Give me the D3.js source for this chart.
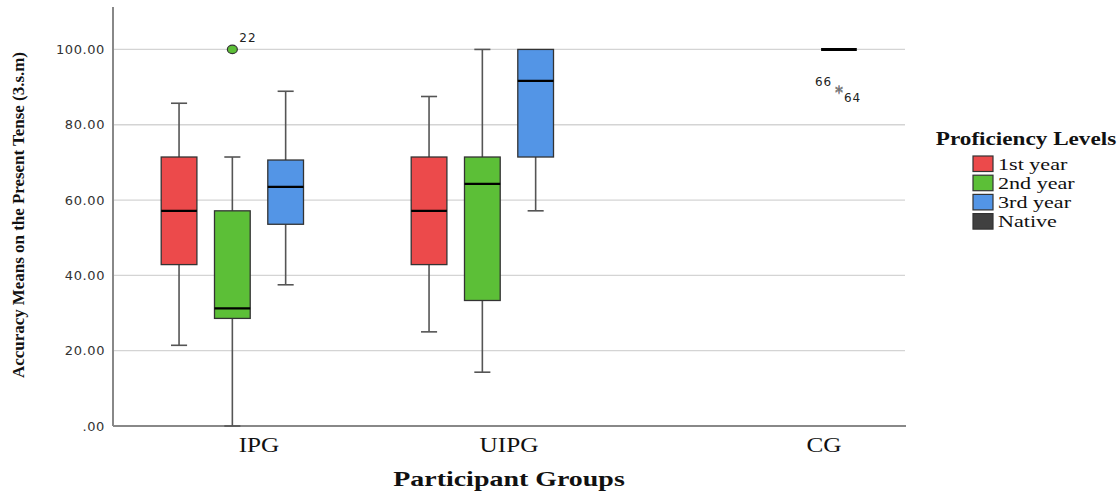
<!DOCTYPE html>
<html>
<head>
<meta charset="utf-8">
<script src="https://cdn.jsdelivr.net/npm/d3@7"></script>
<style>
  body { margin: 0; background: #fff; }
  svg { display: block; }
</style>
</head>
<body>
<div id="chart"></div>
<script>
// categories
const groups = ["IPG", "UIPG", "CG"];
const levels = ["1st year", "2nd year", "3rd year", "Native"];
const levelColors = ["#ec4a4b", "#5cbf37", "#5395e6", "#404040"];

// box statistics, one entry per box
const boxGroup  = ["IPG", "IPG", "IPG", "UIPG", "UIPG", "UIPG", "CG"];
const boxLevel  = ["1st year", "2nd year", "3rd year", "1st year", "2nd year", "3rd year", "Native"];
const whiskLow  = [21.43, 0.00, 37.50, 25.00, 14.29, 57.14, 100];
const q1        = [42.86, 28.57, 53.57, 42.86, 33.33, 71.43, 100];
const medians   = [57.14, 31.25, 63.50, 57.14, 64.29, 91.67, 100];
const q3        = [71.43, 57.14, 70.63, 71.43, 71.43, 100.0, 100];
const whiskHigh = [85.71, 71.43, 88.89, 87.50, 100.0, 100.0, 100];

// outliers (o) and extremes (*)
const outGroup = ["IPG", "CG", "CG"];
const outLevel = ["2nd year", "Native", "Native"];
const outValue = [100, 89.5, 89.2];
const outCase  = ["22", "66", "64"];
const outKind  = ["o", "*", "*"];

const yTicks = [0, 20, 40, 60, 80, 100];

const W = 1119, H = 493;
const svg = d3.select("#chart").append("svg").attr("width", W).attr("height", H);

// the source image is a bit wider than tall, serif texts look stretched
function stretch(sel, k) {
  sel.each(function () {
    const len = this.getComputedTextLength();
    d3.select(this).attr("textLength", len * k).attr("lengthAdjust", "spacingAndGlyphs");
  });
}

const x0 = d3.scaleBand().domain(groups).range([113, 905]).paddingOuter(0.084).paddingInner(0);
const x1 = d3.scaleBand().domain(levels).range([-106.6, 106.6]).paddingInner(0.33).paddingOuter(0.165);
const y = d3.scaleLinear().domain([0, 111]).range([426, 8]);
const color = d3.scaleOrdinal().domain(levels).range(levelColors);
const cx = (g, l) => x0(g) + x0.bandwidth() / 2 + x1(l) + x1.bandwidth() / 2;

// grid lines
svg.append("g")
  .selectAll("line")
  .data(yTicks.filter(d => d > 0))
  .join("line")
  .attr("x1", 113).attr("x2", 905)
  .attr("y1", d => y(d)).attr("y2", d => y(d))
  .attr("stroke", "#d4d4d4").attr("stroke-width", 1.3);

// y axis
const yAxis = svg.append("g")
  .attr("transform", "translate(113,0)")
  .call(d3.axisLeft(y).tickValues(yTicks).tickSize(0).tickPadding(8)
    .tickFormat(d => d === 0 ? ".00" : d3.format(".2f")(d)));
yAxis.select(".domain").remove();
yAxis.selectAll("text")
  .attr("font-family", "DejaVu Sans, sans-serif")
  .attr("font-size", 13).attr("fill", "#333").attr("letter-spacing", 0.6);
svg.append("line").attr("x1", 113).attr("x2", 113).attr("y1", 7).attr("y2", 426)
  .attr("stroke", "#888").attr("stroke-width", 2);

// x axis
svg.append("line").attr("x1", 113).attr("x2", 906).attr("y1", 426).attr("y2", 426)
  .attr("stroke", "#888").attr("stroke-width", 2);
const xAxis = svg.append("g")
  .attr("transform", "translate(0,426)")
  .call(d3.axisBottom(x0).tickSize(0).tickPadding(11));
xAxis.select(".domain").remove();
xAxis.selectAll("text")
  .attr("font-family", "Liberation Serif, serif")
  .attr("font-size", 21).attr("fill", "#111")
  // SPSS places the CG label near its only box
  .attr("dx", d => d === "CG" ? 65 : 0)
  .call(stretch, 1.2);

// boxes
const boxes = d3.range(boxGroup.length).map(i => ({
  g: boxGroup[i], l: boxLevel[i],
  lo: whiskLow[i], q1: q1[i], med: medians[i], q3: q3[i], hi: whiskHigh[i]
}));
const bw = x1.bandwidth();
const capW = bw * 0.45;
const bx = svg.append("g").selectAll("g").data(boxes).join("g");

bx.append("line")
  .attr("x1", d => cx(d.g, d.l)).attr("x2", d => cx(d.g, d.l))
  .attr("y1", d => y(d.hi)).attr("y2", d => y(d.q3))
  .attr("stroke", "#555").attr("stroke-width", 1.6);
bx.append("line")
  .attr("x1", d => cx(d.g, d.l)).attr("x2", d => cx(d.g, d.l))
  .attr("y1", d => y(d.q1)).attr("y2", d => y(d.lo))
  .attr("stroke", "#555").attr("stroke-width", 1.6);
bx.filter(d => d.hi > d.q3).append("line")
  .attr("x1", d => cx(d.g, d.l) - capW / 2).attr("x2", d => cx(d.g, d.l) + capW / 2)
  .attr("y1", d => y(d.hi)).attr("y2", d => y(d.hi))
  .attr("stroke", "#555").attr("stroke-width", 1.6);
bx.filter(d => d.lo < d.q1).append("line")
  .attr("x1", d => cx(d.g, d.l) - capW / 2).attr("x2", d => cx(d.g, d.l) + capW / 2)
  .attr("y1", d => y(d.lo)).attr("y2", d => y(d.lo))
  .attr("stroke", "#555").attr("stroke-width", 1.6);
bx.filter(d => d.q3 > d.q1).append("rect")
  .attr("x", d => cx(d.g, d.l) - bw / 2).attr("width", bw)
  .attr("y", d => y(d.q3)).attr("height", d => y(d.q1) - y(d.q3))
  .attr("fill", d => color(d.l)).attr("stroke", "#333").attr("stroke-width", 1.3);
bx.append("line")
  .attr("x1", d => cx(d.g, d.l) - bw / 2).attr("x2", d => cx(d.g, d.l) + bw / 2)
  .attr("y1", d => y(d.med)).attr("y2", d => y(d.med))
  .attr("stroke", "#000").attr("stroke-width", d => d.q3 > d.q1 ? 2.2 : 3);

// outliers
const outs = d3.range(outValue.length).map(i => ({
  g: outGroup[i], l: outLevel[i], v: outValue[i], c: outCase[i], k: outKind[i], i
}));
const og = svg.append("g").selectAll("g").data(outs).join("g");
og.filter(d => d.k === "o").append("ellipse")
  .attr("cx", d => cx(d.g, d.l)).attr("cy", d => y(d.v))
  .attr("rx", 5).attr("ry", 4.2)
  .attr("fill", d => color(d.l)).attr("stroke", "#333").attr("stroke-width", 1.2);
og.filter(d => d.k === "*").append("text")
  .attr("x", d => cx(d.g, d.l)).attr("y", d => y(d.v) + 9)
  .attr("text-anchor", "middle")
  .attr("font-family", "DejaVu Sans, sans-serif").attr("font-size", 17)
  .attr("fill", "#777").text("*");
og.append("text")
  .attr("x", d => d.k === "o" ? cx(d.g, d.l) + 7 : (d.c === "66" ? cx(d.g, d.l) - 24 : cx(d.g, d.l) + 5))
  .attr("y", d => d.k === "o" ? y(d.v) - 7 : (d.c === "66" ? y(d.v) - 3 : y(d.v) + 12))
  .attr("font-family", "DejaVu Sans, sans-serif").attr("font-size", 12)
  .attr("letter-spacing", 1).attr("fill", "#222").text(d => d.c);

// axis titles
svg.append("text")
  .attr("transform", "translate(24,215) rotate(-90)")
  .attr("text-anchor", "middle")
  .attr("font-family", "Liberation Serif, serif").attr("font-weight", "bold")
  .attr("font-size", 17).attr("fill", "#111")
  .attr("textLength", 326).attr("lengthAdjust", "spacingAndGlyphs")
  .text("Accuracy Means on the Present Tense (3.s.m)");
svg.append("text")
  .attr("x", 509).attr("y", 486).attr("text-anchor", "middle")
  .attr("font-family", "Liberation Serif, serif").attr("font-weight", "bold")
  .attr("font-size", 22).attr("fill", "#111")
  .text("Participant Groups")
  .call(stretch, 1.27);

// legend
const lg = svg.append("g");
lg.append("text")
  .attr("x", 1026).attr("y", 145).attr("text-anchor", "middle")
  .attr("font-family", "Liberation Serif, serif").attr("font-weight", "bold")
  .attr("font-size", 19).attr("fill", "#111")
  .text("Proficiency Levels")
  .call(stretch, 1.22);
const li = lg.selectAll("g.item").data(levels).join("g")
  .attr("transform", (d, i) => `translate(973,${156 + i * 19.2})`);
li.append("rect")
  .attr("width", 20).attr("height", 15.5)
  .attr("fill", d => color(d)).attr("stroke", "#333").attr("stroke-width", 1.2);
li.append("text")
  .attr("x", 25).attr("y", 13.5)
  .attr("font-family", "Liberation Serif, serif").attr("font-size", 17).attr("fill", "#111")
  .text(d => d)
  .call(stretch, 1.3);
</script>
</body>
</html>
